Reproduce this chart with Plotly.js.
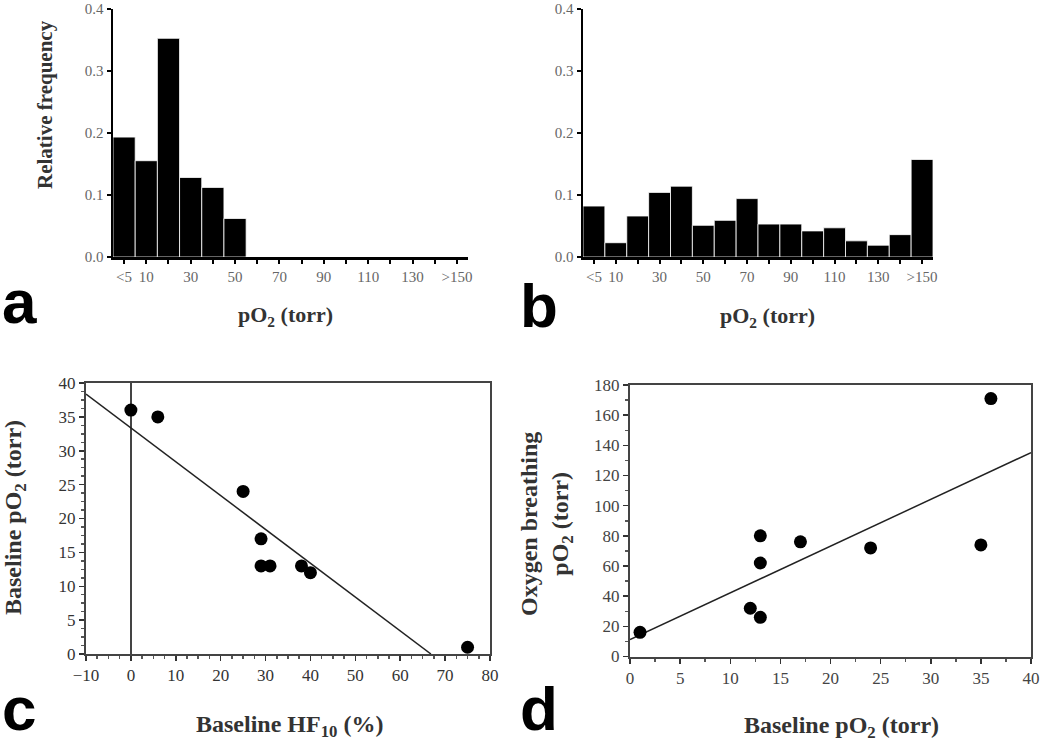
<!DOCTYPE html>
<html>
<head>
<meta charset="utf-8">
<script src="https://cdn.plot.ly/plotly-3.0.1.min.js"></script>
<style>html,body{margin:0;padding:0;background:#fff;}#chart{width:1050px;height:745px;}</style>
</head>
<body>
<div id="chart"></div>
<script>
// ---- Data ----
const binCategories = ["<5","10","20","30","40","50","60","70","80","90","100","110","120","130","140",">150"];
const binLabelsShown = ["<5","10","30","50","70","90","110","130",">150"];
const freqBaseline = [0.193,0.155,0.352,0.128,0.112,0.062,0,0,0,0,0,0,0,0,0,0];
const freqOxygen   = [0.082,0.023,0.066,0.104,0.114,0.051,0.059,0.094,0.053,0.053,0.042,0.047,0.026,0.019,0.036,0.157];

const hf10Pct        = [0, 6, 25, 29, 29, 31, 38, 40, 75];
const baselinePO2_c  = [36, 35, 24, 17, 13, 13, 13, 12, 1];

const baselinePO2_d  = [1, 12, 13, 13, 13, 17, 24, 35, 36];
const oxygenPO2      = [16, 32, 26, 62, 80, 76, 72, 74, 171];

// bin positions (ordinal index of each category)
const binPos = binCategories.map((c, i) => i);
const labelPos = binLabelsShown.map(l => binCategories.indexOf(l));

// least-squares fit
function fit(x, y) {
  const n = x.length;
  const mx = x.reduce((a,b)=>a+b,0)/n, my = y.reduce((a,b)=>a+b,0)/n;
  let sxy = 0, sxx = 0;
  for (let i=0;i<n;i++){ sxy += (x[i]-mx)*(y[i]-my); sxx += (x[i]-mx)*(x[i]-mx); }
  const m = sxy/sxx; return {m, b: my - m*mx};
}
const fitC = fit(hf10Pct, baselinePO2_c);
const fitD = fit(baselinePO2_d, oxygenPO2);
const cX0 = -10, cX1 = -fitC.b/fitC.m;
const dX0 = 0, dX1 = 40;

const SERIF = "Liberation Serif, Times New Roman, serif";
const SANS = "Liberation Sans, Arial, sans-serif";

const traces = [
  {type:'bar', x: binPos, y: freqBaseline, xaxis:'x', yaxis:'y', width:1,
   marker:{color:'#000', line:{color:'#fff', width:0.8}}, hoverinfo:'skip'},
  {type:'bar', x: binPos, y: freqOxygen, xaxis:'x2', yaxis:'y2', width:1,
   marker:{color:'#000', line:{color:'#fff', width:0.8}}, hoverinfo:'skip'},
  {type:'scatter', mode:'lines', x:[cX0, cX1], y:[fitC.m*cX0+fitC.b, fitC.m*cX1+fitC.b],
   xaxis:'x3', yaxis:'y3', line:{color:'#222', width:1.5}},
  {type:'scatter', mode:'markers', x: hf10Pct, y: baselinePO2_c, xaxis:'x3', yaxis:'y3',
   marker:{color:'#000', size:13}},
  {type:'scatter', mode:'lines', x:[dX0, dX1], y:[fitD.m*dX0+fitD.b, fitD.m*dX1+fitD.b],
   xaxis:'x4', yaxis:'y4', line:{color:'#222', width:1.5}},
  {type:'scatter', mode:'markers', x: baselinePO2_d, y: oxygenPO2, xaxis:'x4', yaxis:'y4',
   marker:{color:'#000', size:13}}
];

const W = 1050, H = 745;
const px = v => v / W;
const py = v => 1 - v / H;

const histX = (l, r) => ({
  domain:[px(l), px(r)], type:'linear', range:[-0.5, binCategories.length - 0.5],
  tickmode:'array', tickvals: labelPos, ticktext: binLabelsShown,
  ticks:'outside', ticklen:4, tickwidth:2, tickcolor:'#000',
  minor:{tickmode:'linear', tick0:0, dtick:1, ticks:'outside', ticklen:4, tickwidth:2, tickcolor:'#000'},
  showline:true, linewidth:2.5, linecolor:'#000', showgrid:false, zeroline:false,
  tickfont:{family:SERIF, size:15, color:'#666'}, fixedrange:true
});
const histY = (anchor) => ({
  domain:[py(257), py(8.5)], range:[0, 0.4], dtick:0.1, tickformat:'.1f', anchor,
  ticks:'outside', ticklen:4, tickwidth:2, tickcolor:'#000',
  showline:true, linewidth:2.5, linecolor:'#000', showgrid:false, zeroline:false,
  tickfont:{family:SERIF, size:15, color:'#666'}, fixedrange:true
});

const layout = {
  width: W, height: H, margin:{l:0,r:0,t:0,b:0},
  paper_bgcolor:'#fff', plot_bgcolor:'#fff', showlegend:false, bargap:0,
  xaxis: Object.assign(histX(113, 468), {anchor:'y'}),
  yaxis: histY('x'),
  xaxis2: Object.assign(histX(583, 933), {anchor:'y2'}),
  yaxis2: histY('x2'),
  xaxis3: {
    domain:[px(86), px(490)], anchor:'y3', range:[-10, 80], dtick:10,
    ticks:'outside', ticklen:5, tickwidth:1.5, tickcolor:'#333',
    minor:{dtick:2.5, ticks:'outside', ticklen:3, tickcolor:'#555'},
    showline:true, mirror:true, linewidth:2, linecolor:'#444', showgrid:false,
    zeroline:true, zerolinecolor:'#444', zerolinewidth:1.5,
    tickfont:{family:SERIF, size:17, color:'#333'}, fixedrange:true
  },
  yaxis3: {
    domain:[py(654), py(383)], anchor:'x3', range:[0, 40], dtick:5,
    ticks:'outside', ticklen:5, tickwidth:1.5, tickcolor:'#333',
    minor:{dtick:1.25, ticks:'outside', ticklen:3, tickcolor:'#555'},
    showline:true, mirror:true, linewidth:2, linecolor:'#444', showgrid:false, zeroline:false,
    tickfont:{family:SERIF, size:17, color:'#333'}, fixedrange:true
  },
  xaxis4: {
    domain:[px(630), px(1031)], anchor:'y4', range:[0, 40], dtick:5,
    ticks:'outside', ticklen:5, tickwidth:1.5, tickcolor:'#333',
    minor:{dtick:2.5, ticks:'outside', ticklen:3, tickcolor:'#555'},
    showline:true, mirror:true, linewidth:2, linecolor:'#444', showgrid:false, zeroline:false,
    tickfont:{family:SERIF, size:17, color:'#444'}, fixedrange:true
  },
  yaxis4: {
    domain:[py(656.5), py(385)], anchor:'x4', range:[0, 180], dtick:20,
    ticks:'outside', ticklen:5, tickwidth:1.5, tickcolor:'#333',
    minor:{dtick:10, ticks:'outside', ticklen:3, tickcolor:'#555'},
    showline:true, mirror:true, linewidth:2, linecolor:'#444', showgrid:false, zeroline:false,
    tickfont:{family:SERIF, size:17, color:'#444'}, fixedrange:true
  },
  annotations: [
    {text:'<b>Relative frequency</b>', textangle:-90, x:px(45), y:py(105), xref:'paper', yref:'paper',
     showarrow:false, xanchor:'center', yanchor:'middle', font:{family:SERIF, size:21, color:'#333'}},
    {text:'<b>pO<sub>2</sub> (torr)</b>', x:px(285), y:py(316), xref:'paper', yref:'paper',
     showarrow:false, xanchor:'center', yanchor:'middle', font:{family:SERIF, size:22, color:'#333'}},
    {text:'<b>pO<sub>2</sub> (torr)</b>', x:px(767), y:py(317), xref:'paper', yref:'paper',
     showarrow:false, xanchor:'center', yanchor:'middle', font:{family:SERIF, size:22, color:'#333'}},
    {text:'<b>Baseline HF<sub>10</sub> (%)</b>', x:px(289), y:py(726), xref:'paper', yref:'paper',
     showarrow:false, xanchor:'center', yanchor:'middle', font:{family:SERIF, size:24, color:'#333'}},
    {text:'<b>Baseline pO<sub>2</sub> (torr)</b>', textangle:-90, x:px(15), y:py(518), xref:'paper', yref:'paper',
     showarrow:false, xanchor:'center', yanchor:'middle', font:{family:SERIF, size:24, color:'#333'}},
    {text:'<b>Oxygen breathing<br>pO<sub>2</sub> (torr)</b>', textangle:-90, x:px(546), y:py(524), xref:'paper', yref:'paper',
     showarrow:false, xanchor:'center', yanchor:'middle', font:{family:SERIF, size:24, color:'#333'}},
    {text:'<b>Baseline pO<sub>2</sub> (torr)</b>', x:px(841), y:py(727), xref:'paper', yref:'paper',
     showarrow:false, xanchor:'center', yanchor:'middle', font:{family:SERIF, size:24, color:'#333'}},
    {text:'<b>a</b>', x:px(0), y:py(338), xref:'paper', yref:'paper', showarrow:false,
     xanchor:'left', yanchor:'bottom', font:{family:SANS, size:62, color:'#000'}},
    {text:'<b>b</b>', x:px(518), y:py(342), xref:'paper', yref:'paper', showarrow:false,
     xanchor:'left', yanchor:'bottom', font:{family:SANS, size:62, color:'#000'}},
    {text:'<b>c</b>', x:px(0), y:py(745), xref:'paper', yref:'paper', showarrow:false,
     xanchor:'left', yanchor:'bottom', font:{family:SANS, size:62, color:'#000'}},
    {text:'<b>d</b>', x:px(518), y:py(745), xref:'paper', yref:'paper', showarrow:false,
     xanchor:'left', yanchor:'bottom', font:{family:SANS, size:62, color:'#000'}}
  ]
};

Plotly.newPlot('chart', traces, layout, {staticPlot:true, displayModeBar:false});
</script>
</body>
</html>
